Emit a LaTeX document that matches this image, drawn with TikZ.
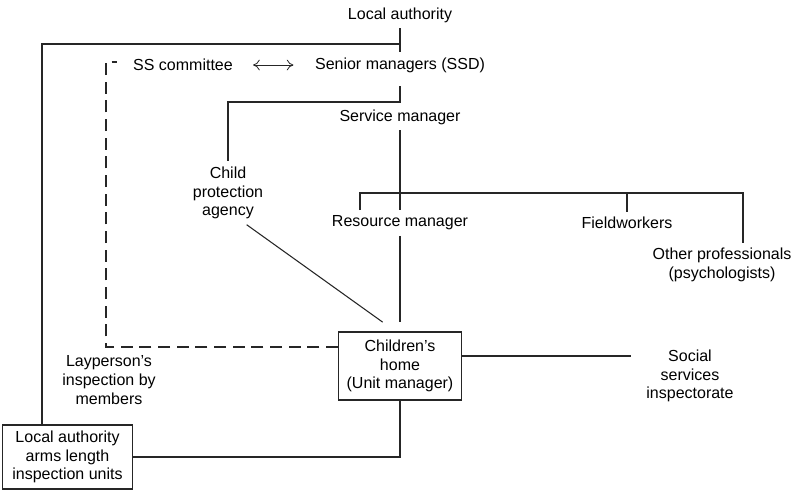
\documentclass[tikz,border=0pt]{standalone}
\usepackage{fontspec}
\setmainfont{Liberation Sans}
\usetikzlibrary{arrows.meta}

\tikzstyle{plain} = [align=center, inner sep=4pt, font=\fontsize{12}{14}\selectfont]
\tikzstyle{unit} = [plain, rectangle, draw=black!85, line width=0.8pt]
\tikzstyle{link} = [draw=black!85, line width=0.8pt]
\tikzstyle{visit} = [link, dash pattern=on 9pt off 5pt]
\tikzstyle{both} = [draw=black!85, line width=0.6pt, {To[length=5pt,width=8pt]}-{To[length=5pt,width=8pt]}]

\begin{document}
\begin{tikzpicture}[x=0.75pt, y=-0.75pt]
  \useasboundingbox (0,0) rectangle (796,490);

  \node (la) [plain] at (400,15) {Local authority};
  \node (ssc) [plain] at (183,65) {SS committee};
  \node (ssd) [plain] at (400,65) {Senior managers (SSD)};
  \node (sm) [plain] at (400,117) {Service manager};
  \node (cpa) [plain] at (228,193) {Child\\protection\\agency};
  \node (rm) [plain] at (400,223) {Resource manager};
  \node (fw) [plain] at (627,223) {Fieldworkers};
  \node (op) [plain] at (722,265) {Other professionals\\(psychologists)};
  \node (ch) [unit, minimum width=92pt, minimum height=51pt] at (400,366) {Children's\\home\\(Unit manager)};
  \node (ssi) [plain] at (690,376) {Social\\services\\inspectorate};
  \node (lay) [plain] at (109,380) {Layperson's\\inspection by\\members};
  \node (lai) [unit, minimum width=97pt, minimum height=48pt] at (67.5,457) {Local authority\\arms length\\inspection units};

  \coordinate (top) at (400,44);
  \coordinate (topleft) at (42,44);
  \coordinate (cpturn) at (228,102);
  \coordinate (tee) at (400,193);
  \coordinate (teeleft) at (360,193);
  \coordinate (teeright) at (743,193);
  \coordinate (ssiend) at (631,356);
  \coordinate (dashtop) at (106,62);

  \draw [link] (la) -- (ssd);
  \draw [link] (top) -- (topleft) -- (topleft |- lai.north);
  \draw [link, shorten <=6pt] (ssd.south) |- (cpturn) -- (cpa.north);
  \draw [both, shorten <=11pt, shorten >=12pt] (ssc) -- (ssd);
  \draw [link] (sm) -- (rm);
  \draw [link] (teeleft |- rm.north) -- (teeleft) -- (teeright) -- (teeright |- op.north);
  \draw [link] (fw.north) -- (fw.north |- tee);
  \draw [link, shorten >=7pt] (rm) -- (ch);
  \draw [link] ([xshift=14pt]cpa.south) -- ([xshift=-13pt,yshift=7pt]ch.north);
  \draw [link] (ch.east |- ssiend) -- (ssiend);
  \draw [visit, shorten >=8pt] (ch.west |- 0,347) -| (dashtop) -- (ssc.west |- dashtop);
  \draw [link] (ch.south) |- (lai.east);
\end{tikzpicture}
\end{document}
